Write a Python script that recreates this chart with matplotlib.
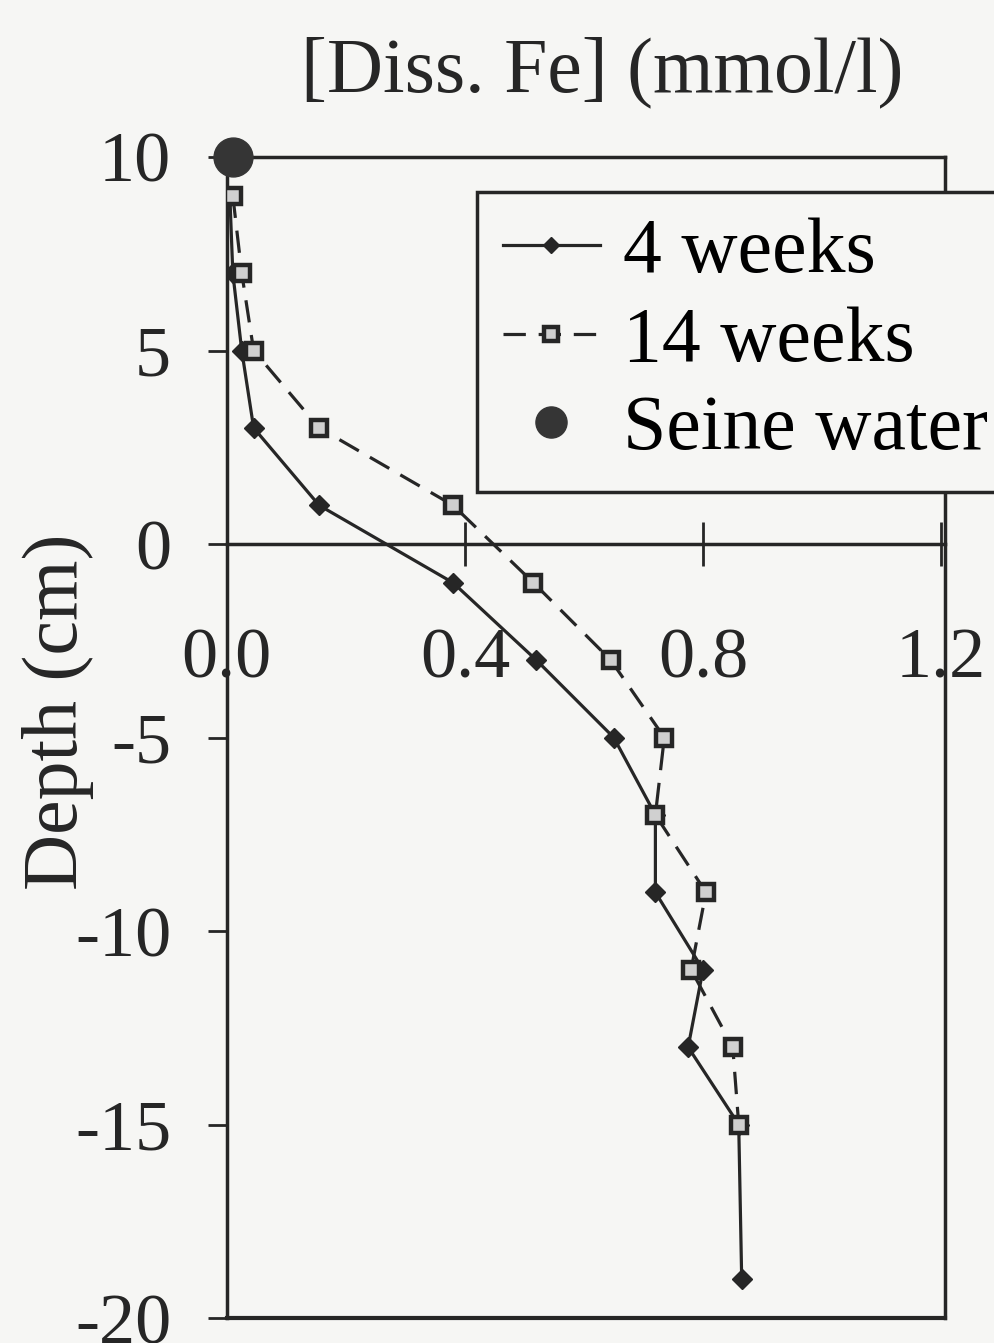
import matplotlib
matplotlib.use("Agg")
import matplotlib.pyplot as plt

# Fe-Profile (gelöstes Eisen) gegen Tiefe
depth_4wk = [9, 7, 5, 3, 1, -1, -3, -5, -7, -9, -11, -13, -15, -19]
fe_4wk = [0.005, 0.01, 0.025, 0.045, 0.155, 0.38, 0.52, 0.65, 0.72, 0.72, 0.80, 0.775, 0.86, 0.865]

depth_14wk = [9, 7, 5, 3, 1, -1, -3, -5, -7, -9, -11, -13, -15]
fe_14wk = [0.01, 0.025, 0.045, 0.155, 0.38, 0.515, 0.645, 0.735, 0.72, 0.805, 0.78, 0.85, 0.86]

depth_seine = [10]
fe_seine = [0.01]

xticks = [0.0, 0.4, 0.8, 1.2]
xlabels = ["0.0", "0.4", "0.8", "1.2"]
yticks = [10, 5, 0, -5, -10, -15, -20]

bg = "#f6f6f4"
ink = "#262626"

plt.rcParams["font.family"] = ["Liberation Serif", "DejaVu Serif"]
plt.rcParams["axes.unicode_minus"] = False

fig = plt.figure(figsize=(9.95, 13.43), dpi=100, facecolor=bg)
ax = fig.add_axes([0.228, 0.0186, 0.722, 0.8645], facecolor=bg)

ax.plot(fe_4wk, depth_4wk, color=ink, lw=2.3, marker="D", markersize=10,
        markerfacecolor=ink, markeredgecolor=ink, label="4 weeks", zorder=3)
ax.plot(fe_14wk, depth_14wk, color=ink, lw=2.3, dashes=(7, 4), marker="s", markersize=12,
        markerfacecolor="#d0d0d0", markeredgecolor=ink, markeredgewidth=3.2, label="14 weeks", zorder=3)
ax.plot(fe_seine, depth_seine, linestyle="none", marker="o", markersize=28,
        color="#353535", label="Seine water", zorder=4, clip_on=False)

ax.set_xlim(0, 1.207)
ax.set_ylim(-20, 10)

# x-Achse auf Tiefe 0, Rahmen unten extra
ax.spines["bottom"].set_position(("data", 0))
ax.axhline(-20, color=ink, lw=3, clip_on=False, zorder=5)
for s in ax.spines.values():
    s.set_color(ink)
    s.set_linewidth(2.5)

ax.set_xticks(xticks)
ax.set_xticklabels(xlabels)
ax.set_yticks(yticks)
ax.tick_params(axis="x", direction="inout", length=32, width=2, colors=ink,
               labelsize=52, pad=44)
ax.tick_params(axis="y", direction="out", length=14, width=2, colors=ink,
               labelsize=52, pad=26)

fig.text(0.605, 1 - 72 / 1343, "[Diss. Fe] (mmol/l)", fontsize=56, color=ink,
         ha="center", va="center")
fig.text(0.058, 1 - 712 / 1343, "Depth (cm)", fontsize=56, color=ink,
         ha="center", va="center", rotation=90)

leg = ax.legend(loc="upper left", bbox_to_anchor=(477 / 995, 1 - 192 / 1343),
                bbox_transform=fig.transFigure, fontsize=56, frameon=True,
                fancybox=False, edgecolor=ink, facecolor=bg, framealpha=1,
                handlelength=1.25, handletextpad=0.3, labelspacing=0.22,
                borderpad=0.33, borderaxespad=0, markerscale=0.8)
leg.get_frame().set_linewidth(2.5)
leg.set_zorder(6)

fig.savefig("out.png", dpi=100, facecolor=bg)
